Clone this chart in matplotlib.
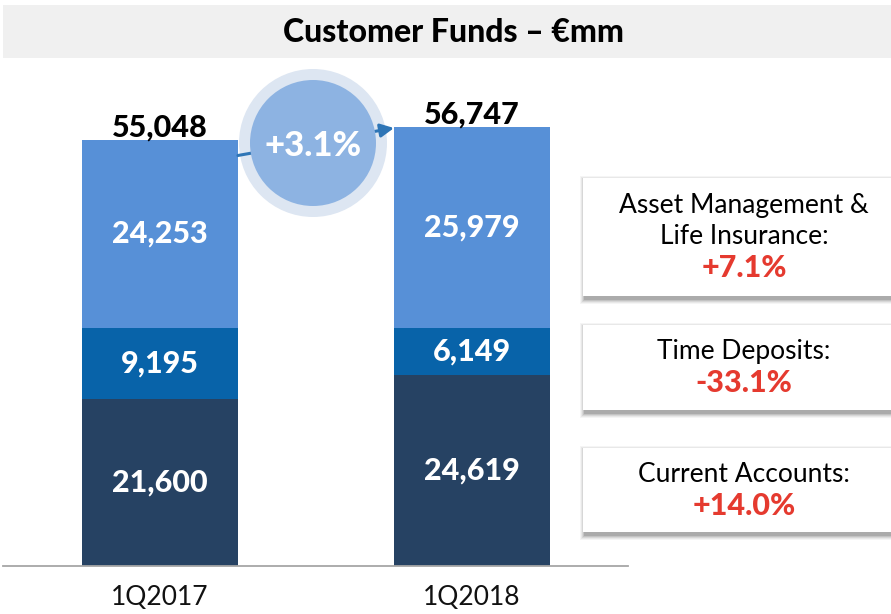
import matplotlib
matplotlib.use("Agg")
import matplotlib.pyplot as plt
from matplotlib.patches import Circle, FancyArrowPatch, Rectangle

# ---- data ----
categories = ["1Q2017", "1Q2018"]
current_accounts = [21600, 24619]
time_deposits = [9195, 6149]
asset_mgmt_life = [24253, 25979]
totals = [55048, 56747]
growth_label = "+3.1%"
box_titles = ["Asset Management &\nLife Insurance:", "Time Deposits:", "Current Accounts:"]
box_changes = ["+7.1%", "-33.1%", "+14.0%"]
title = "Customer Funds – €mm"

# ---- style ----
FONT = "Lato"
c_bottom = "#264263"
c_mid = "#0863a9"
c_top = "#5790d7"
c_red = "#e53a2f"
W, H = 891, 614

fig = plt.figure(figsize=(W / 100, H / 100), dpi=100)
fig.patch.set_facecolor("white")

# main axes (pixel geometry: x 3..628, baseline y=566, top y=60)
ax_left, ax_right, base_y, top_y = 3, 628, 566, 60
ax = fig.add_axes([ax_left / W, (H - base_y) / H, (ax_right - ax_left) / W, (base_y - top_y) / H])
px_per_unit = 426 / totals[0]
ax.set_ylim(0, (base_y - top_y) / px_per_unit)
ax.set_xlim(-0.503, 1.5)
x = [0, 1]
bw = 0.5
ax.bar(x, current_accounts, bw, color=c_bottom, zorder=2)
ax.bar(x, time_deposits, bw, bottom=current_accounts, color=c_mid, zorder=2)
b2 = [a + b for a, b in zip(current_accounts, time_deposits)]
ax.bar(x, asset_mgmt_life, bw, bottom=b2, color=c_top, zorder=2)

for spine in ["top", "right", "left"]:
    ax.spines[spine].set_visible(False)
ax.spines["bottom"].set_color("#a6a6a6")
ax.spines["bottom"].set_linewidth(1.3)
ax.set_yticks([])
ax.set_xticks(x)
ax.set_xticklabels(categories, fontsize=19, family=FONT, color="#111111")
ax.tick_params(axis="x", length=0, pad=14)

lab_kw = dict(ha="center", va="center", color="white", fontsize=22, fontweight=900, family=FONT, zorder=3)
for i in x:
    ax.text(i, current_accounts[i] / 2, f"{current_accounts[i]:,}", **lab_kw)
    ax.text(i, current_accounts[i] + time_deposits[i] / 2, f"{time_deposits[i]:,}", **lab_kw)
    ax.text(i, b2[i] + asset_mgmt_life[i] / 2, f"{asset_mgmt_life[i]:,}", **lab_kw)
    ax.annotate(f"{totals[i]:,}", (i, totals[i]), xytext=(0, -1), textcoords="offset points",
                ha="center", va="bottom", fontsize=22, fontweight=900, family=FONT, color="black")

# overlay in pixel coords
ov = fig.add_axes([0, 0, 1, 1])
ov.set_xlim(0, W)
ov.set_ylim(H, 0)
ov.axis("off")
ov.patch.set_alpha(0)

# title band
ov.add_patch(Rectangle((3, 5), W - 3, 53, facecolor="#f0f0f0", edgecolor="none"))
ov.text(453, 33, title, ha="center", va="center", fontsize=23, fontweight=900, family=FONT, color="black")

# growth bubble
cx, cy = 313, 143
ov.add_patch(Circle((cx, cy), 74, facecolor="#dde6f2", edgecolor="none", zorder=2))
arrow = FancyArrowPatch((0 + bw / 2, totals[0] - 2000), (1 - bw / 2, totals[1] - 150),
                        transform=ax.transData, arrowstyle="-|>", mutation_scale=20,
                        color="#2e75b6", lw=2.2, zorder=3, clip_on=False, shrinkA=0, shrinkB=0)
ov.add_patch(arrow)
ov.add_patch(Circle((cx, cy), 63, facecolor="#8db3e2", edgecolor="none", zorder=4))
ov.text(cx, cy + 3, growth_label, ha="center", va="center", color="white", fontsize=25,
        fontweight=900, family=FONT, zorder=5)

# right boxes
boxes = [(178, 296), (325, 410), (448, 532)]
bx0, bx1 = 583, 891
for (y0, y1), t, ch in zip(boxes, box_titles, box_changes):
    for k, a in zip(range(5, 0, -1), [0.04, 0.05, 0.07, 0.09, 0.12]):
        ov.add_patch(Rectangle((bx0 - k + 2, y0 - k + 3), bx1 - bx0 + 2 * k, y1 - y0 + 2 * k,
                               facecolor="#000000", alpha=a, edgecolor="none", zorder=5))
    ov.add_patch(Rectangle((bx0, y0), bx1 - bx0, y1 - y0, facecolor="white", edgecolor="none", zorder=6))
    lines = t.split("\n")
    yy = y0 + 27
    for ln in lines:
        ov.text(744, yy, ln, ha="center", va="center", fontsize=19, family=FONT, color="black", zorder=7)
        yy += 32
    ov.text(744, yy - 1, ch, ha="center", va="center", fontsize=22,
            fontweight=900, family=FONT, color=c_red, zorder=7)

fig.savefig("out.png", dpi=100)
